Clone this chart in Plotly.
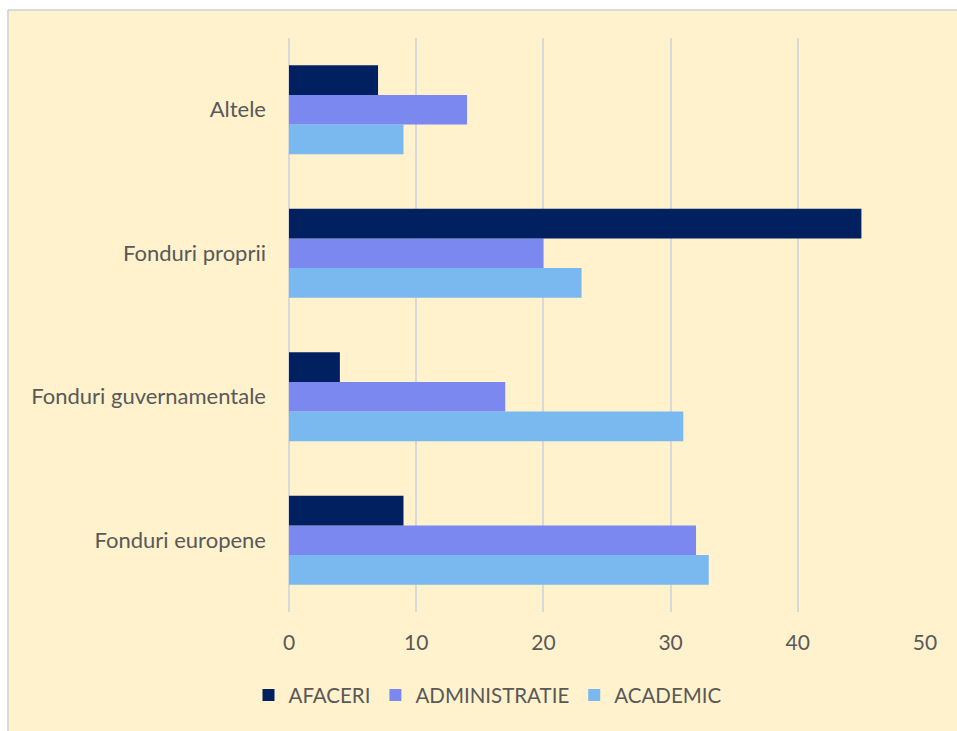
import plotly.graph_objects as go

categories = ["Fonduri europene", "Fonduri guvernamentale", "Fonduri proprii", "Altele"]
afaceri = [9, 4, 45, 7]
administratie = [32, 17, 20, 14]
academic = [33, 31, 23, 9]
x_ticks = [0, 10, 20, 30, 40, 50]

W, H = 957, 731
ml, mr, mt, mb = 289, 32, 38, 119
pw, ph = W - ml - mr, H - mt - mb

font = "Lato, 'Open Sans', sans-serif"
fig = go.Figure()
fig.add_trace(go.Bar(y=categories, x=academic, name="ACADEMIC", orientation="h",
                     marker=dict(color="#7AB8F0", line=dict(width=0))))
fig.add_trace(go.Bar(y=categories, x=administratie, name="ADMINISTRATIE", orientation="h",
                     marker=dict(color="#7B88F0", line=dict(width=0))))
fig.add_trace(go.Bar(y=categories, x=afaceri, name="AFACERI", orientation="h",
                     marker=dict(color="#002060", line=dict(width=0))))

bx0 = (8 - ml) / pw
by1 = 1 + (mt - 10) / ph
fig.add_shape(type="rect", xref="paper", yref="paper",
              x0=bx0, x1=2, y0=-2, y1=by1,
              fillcolor="#FFF2CC", line=dict(width=0), layer="below")
fig.add_shape(type="line", xref="paper", yref="paper", x0=bx0, x1=bx0, y0=-2, y1=by1,
              line=dict(color="#D9D9D9", width=2), layer="below")
fig.add_shape(type="line", xref="paper", yref="paper", x0=bx0, x1=2, y0=by1, y1=by1,
              line=dict(color="#D9D9D9", width=2), layer="below")

fig.update_layout(
    width=W, height=H,
    margin=dict(l=ml, r=mr, t=mt, b=mb),
    paper_bgcolor="white", plot_bgcolor="rgba(0,0,0,0)",
    barmode="group", bargap=0.38, bargroupgap=0,
    font=dict(family=font, size=22, color="#595959"),
    showlegend=True,
    legend=dict(orientation="h", x=(488 - ml) / pw, xanchor="center", y=-0.11, yanchor="top",
                traceorder="reversed", font=dict(size=20.5, color="#595959"),
                itemwidth=30, bgcolor="rgba(0,0,0,0)"),
    xaxis=dict(range=[0, 50], tickvals=x_ticks, showgrid=True, gridcolor="#D9D9D9",
               gridwidth=2, zeroline=True, zerolinecolor="#D9D9D9", zerolinewidth=2,
               showline=False, ticks="", ticklabelstandoff=16, tickfont=dict(size=21)),
    yaxis=dict(categoryorder="array", categoryarray=categories, showgrid=False,
               zeroline=False, showline=False, ticks="", ticklabelstandoff=22),
)
fig.write_html("out.html", config={"displayModeBar": False},
               post_script="document.body.style.margin='0';document.body.style.overflow='hidden';")
